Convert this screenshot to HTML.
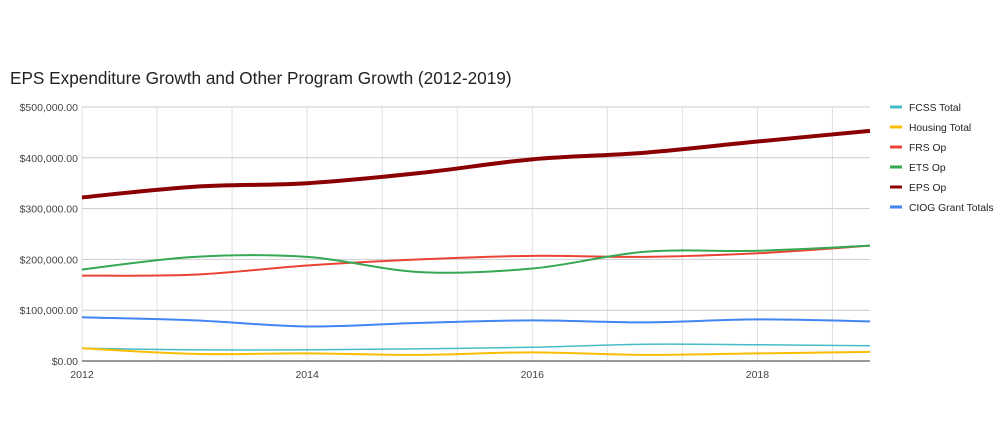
<!DOCTYPE html>
<html><head><meta charset="utf-8">
<style>
body{margin:0;background:#fff;font-family:"Liberation Sans",Arial,sans-serif;}
svg text{font-family:"Liberation Sans",Arial,sans-serif;}
</style></head>
<body>
<svg id="chart" width="1000" height="431">
<text x="10" y="84" font-size="17.2" fill="#222">EPS Expenditure Growth and Other Program Growth (2012-2019)</text>
<g id="grid"></g><g id="series"></g><g id="legend"></g>
</svg>
<script>
const years=[2012,2013,2014,2015,2016,2017,2018,2019];
const xTicks=[2012,2014,2016,2018];
const yTicks=[0,100000,200000,300000,400000,500000];
const fcss=[25000,22000,22000,24000,27000,33000,32000,30000];
const housing=[25000,14000,15000,12000,17000,12000,15000,18000];
const frs=[168000,170000,188000,200000,207000,205000,212000,227000];
const ets=[180000,205000,205000,175000,182000,215000,217000,227000];
const eps=[322000,343000,350000,370000,397000,410000,432000,453000];
const ciog=[86000,80000,68000,75000,80000,76000,82000,78000];
const seriesNames=["FCSS Total","Housing Total","FRS Op","ETS Op","EPS Op","CIOG Grant Totals"];
const seriesData=[fcss,housing,frs,ets,eps,ciog];
const colors=["#46bdc6","#fbbc04","#ea4335","#34a853","#8b0000","#4285f4"];
const widths=[1.5,2,2,2,4,2];
const NS="http://www.w3.org/2000/svg";
const X0=82,X1=870,Y0=361,Y1=107;
function xs(v){return X0+(v-2012)/7*(X1-X0);}
function ys(v){return Y0-v/500000*(Y0-Y1);}
function mk(t,a,p){const e=document.createElementNS(NS,t);for(const k in a)e.setAttribute(k,a[k]);p.appendChild(e);return e;}
const grid=document.getElementById('grid');
for(let x=X0;x<=X1+1;x+=(X1-X0)/10.5){const l=mk('line',{x1:x,x2:x,y1:Y1,y2:Y0,stroke:'#e0e0e0'},grid);

}
yTicks.forEach(v=>{const l=mk('line',{x1:X0,x2:X1,y1:ys(v),y2:ys(v),stroke:v==0?'#333':'#ccc'},grid);


const t=mk('text',{x:X0-4,y:ys(v)+4,'text-anchor':'end','font-size':10.5,fill:'#444'},grid);
t.textContent='$'+v.toLocaleString('en-US',{minimumFractionDigits:2});

});
xTicks.forEach(v=>{const t=mk('text',{x:xs(v),y:Y0+17,'text-anchor':'middle','font-size':10.5,fill:'#444'},grid);
t.textContent=v;

});
const sg=document.getElementById('series');
seriesData.forEach((d,i)=>{
const p=years.map((y,j)=>[xs(y),ys(d[j])]);
let s='M'+p[0][0]+','+p[0][1];
for(let j=0;j<p.length-1;j++){const a=p[Math.max(j-1,0)],b=p[j],c=p[j+1],e=p[Math.min(j+2,p.length-1)];
s+=` C${b[0]+(c[0]-a[0])/6},${b[1]+(c[1]-a[1])/6} ${c[0]-(e[0]-b[0])/6},${c[1]-(e[1]-b[1])/6} ${c[0]},${c[1]}`;}
const path=mk('path',{d:s,fill:'none',stroke:colors[i],'stroke-width':widths[i]},sg);


});
const lg=document.getElementById('legend');
seriesNames.forEach((n,i)=>{const y=107+i*20;
const g=mk('g',{},lg);


mk('line',{x1:890,x2:902,y1:y,y2:y,stroke:colors[i],'stroke-width':3},g);
const t=mk('text',{x:909,y:y+4,'font-size':10.3,fill:'#222'},g);t.textContent=n;});
</script>
</body></html>
